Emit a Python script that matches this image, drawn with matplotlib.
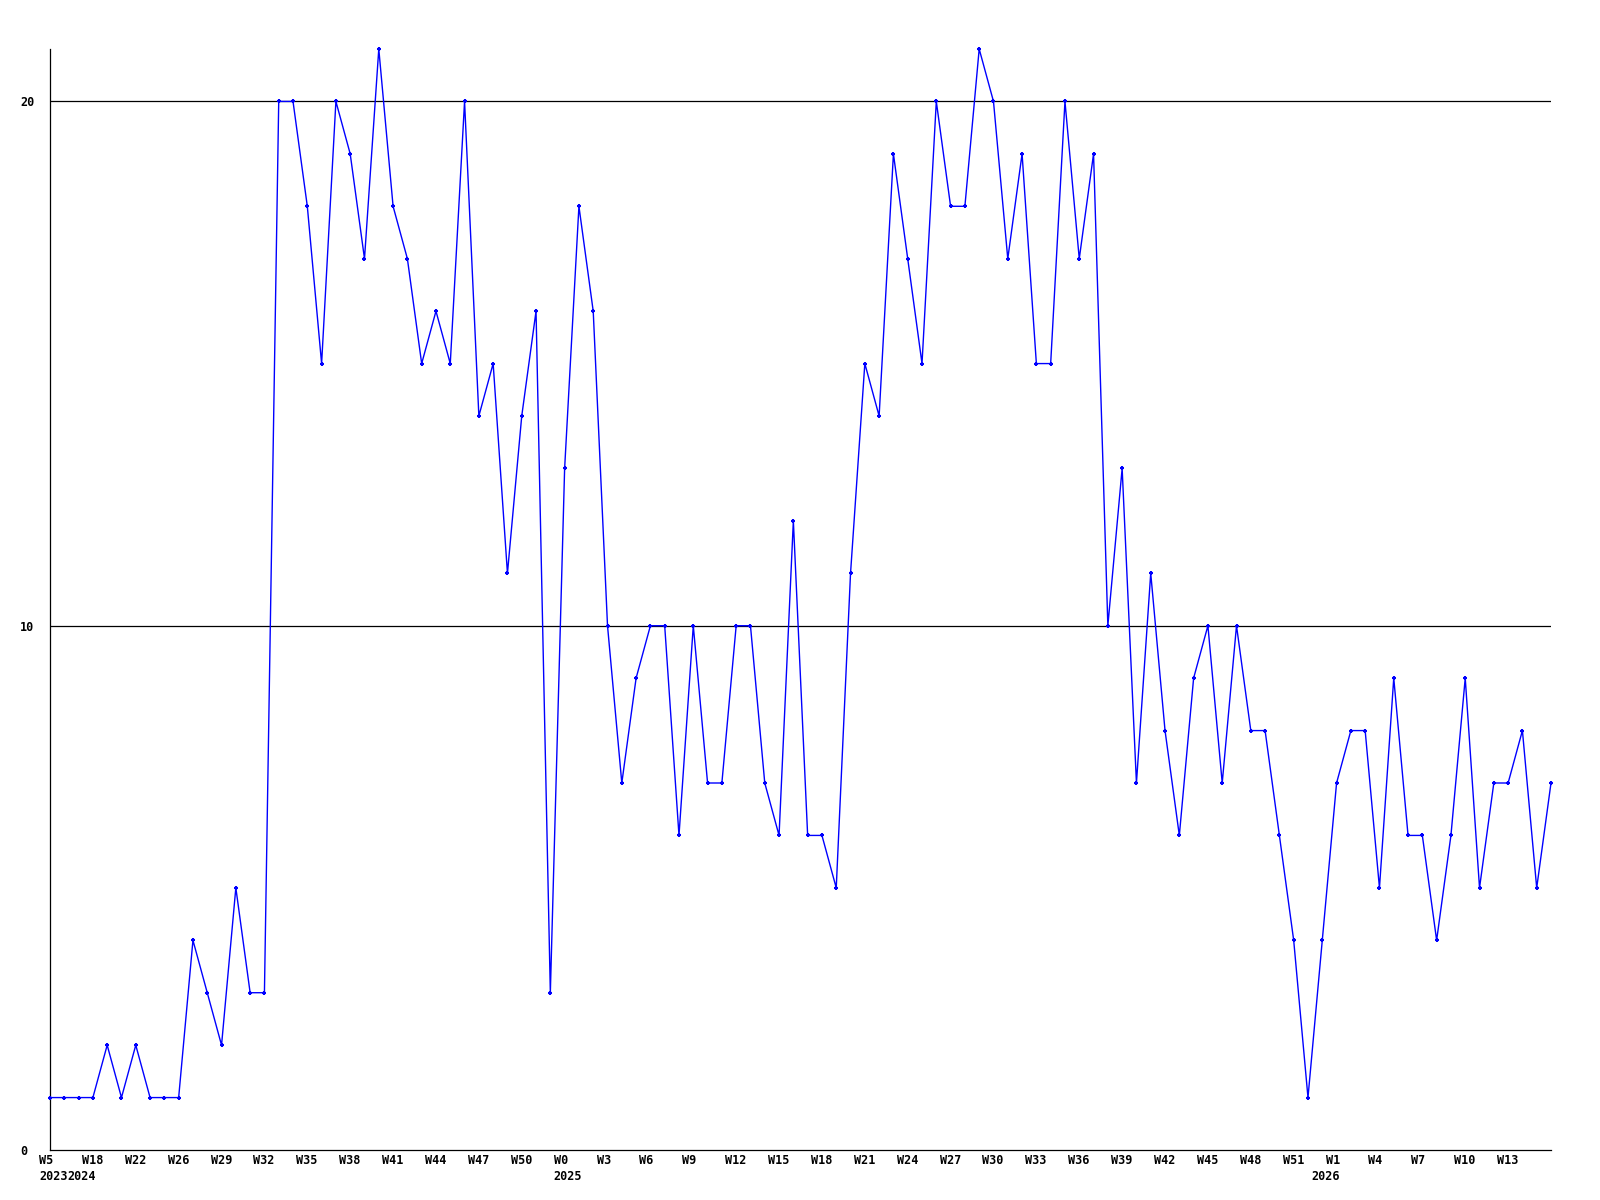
import matplotlib
matplotlib.use("Agg")
import matplotlib.pyplot as plt
import numpy as np

# weekly counts
values = [1, 1, 1, 1, 2, 1, 2, 1, 1, 1,
          4, 3, 2, 5, 3, 3, 20, 20, 18, 15,
          20, 19, 17, 21, 18, 17, 15, 16, 15, 20,
          14, 15, 11, 14, 16, 3, 13, 18, 16, 10,
          7, 9, 10, 10, 6, 10, 7, 7, 10, 10,
          7, 6, 12, 6, 6, 5, 11, 15, 14, 19,
          17, 15, 20, 18, 18, 21, 20, 17, 19, 15,
          15, 20, 17, 19, 10, 13, 7, 11, 8, 6,
          9, 10, 7, 10, 8, 8, 6, 4, 1, 4,
          7, 8, 8, 5, 9, 6, 6, 4, 6, 9,
          5, 7, 7, 8, 5, 7]

week_labels = ["W5", "W18", "W22", "W26", "W29", "W32", "W35", "W38", "W41",
               "W44", "W47", "W50", "W0", "W3", "W6", "W9", "W12", "W15",
               "W18", "W21", "W24", "W27", "W30", "W33", "W36", "W39", "W42",
               "W45", "W48", "W51", "W1", "W4", "W7", "W10", "W13"]
week_pos = list(range(0, 3 * len(week_labels), 3))

year_labels = ["2023", "2024", "2025", "2026"]
year_pos = [0, 2, 36, 89]

y_ticks = [0, 10, 20]

font = dict(family="DejaVu Sans Mono", fontsize=8.5, fontweight="bold", color="black")

fig = plt.figure(figsize=(16, 12), dpi=100)
ax = fig.add_axes([50 / 1600, 50 / 1200, 1501 / 1600, 1101 / 1200])

x = np.arange(len(values))
ax.plot(x, values, color="#0000ff", linewidth=1.0, marker="+",
        markersize=3.5, markeredgewidth=1.5, zorder=3, clip_on=False)

for v in y_ticks[1:]:
    ax.axhline(v, color="black", linewidth=0.9, zorder=1)

ax.set_xlim(0, len(values) - 1)
ax.set_ylim(0, 21)

for s in ["top", "right"]:
    ax.spines[s].set_visible(False)
for s in ["left", "bottom"]:
    ax.spines[s].set_linewidth(0.9)
    ax.spines[s].set_color("black")

ax.set_xticks([])
ax.set_yticks(y_ticks)
ax.set_yticklabels([str(v) for v in y_ticks], **font)
ax.tick_params(axis="y", length=0, pad=21.6)
for lab in ax.get_yticklabels():
    lab.set_horizontalalignment("left")

xt = ax.get_xaxis_transform()
for p, lab in zip(week_pos, week_labels):
    ax.annotate(lab, xy=(p, 0), xycoords=xt, xytext=(-11, -11),
                textcoords="offset pixels", ha="left", va="center",
                annotation_clip=False, **font)
for p, lab in zip(year_pos, year_labels):
    ax.annotate(lab, xy=(p, 0), xycoords=xt, xytext=(-11, -27),
                textcoords="offset pixels", ha="left", va="center",
                annotation_clip=False, **font)

fig.savefig("out.png", dpi=100, facecolor="white")
